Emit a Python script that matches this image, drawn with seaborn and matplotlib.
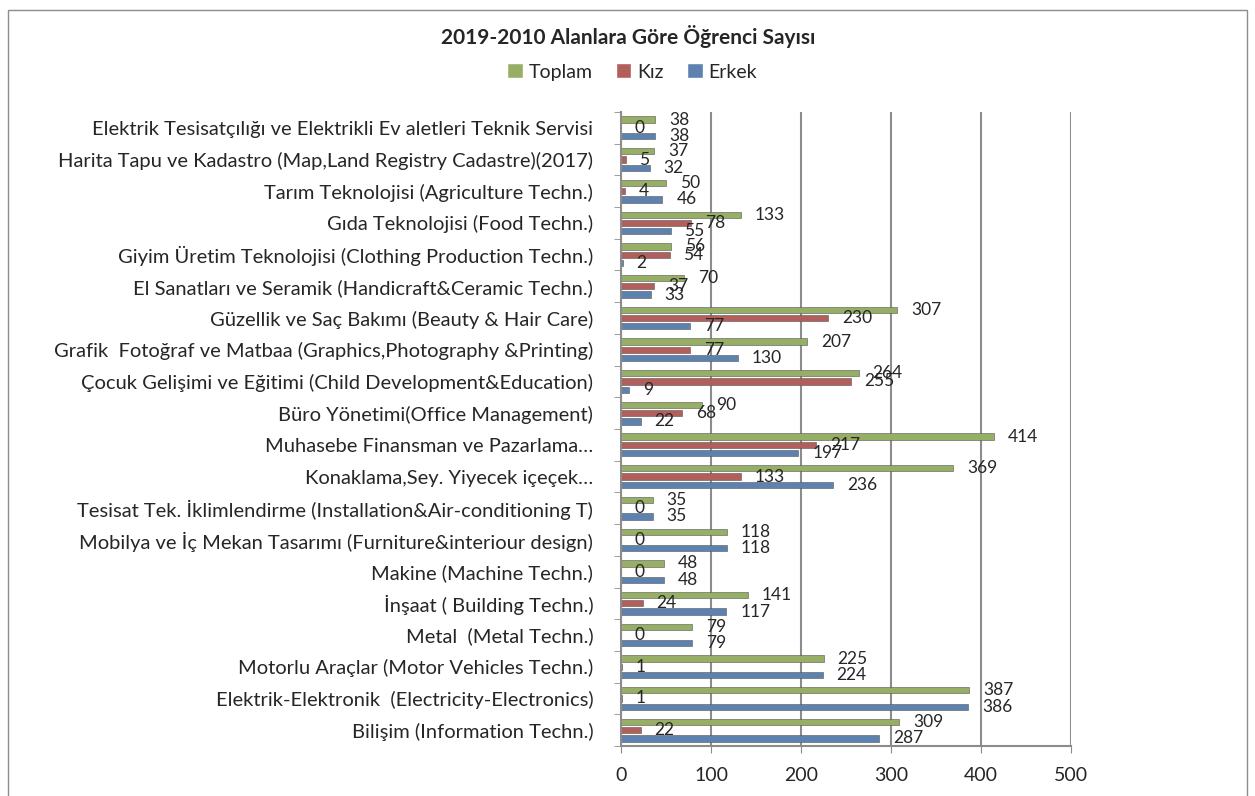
import matplotlib
matplotlib.use("Agg")
import matplotlib.pyplot as plt
import seaborn as sns
import pandas as pd
from matplotlib.patches import Rectangle
from matplotlib.ticker import FixedLocator

# data (top to bottom as shown)
categories = [
    "Elektrik Tesisatçılığı ve Elektrikli Ev aletleri Teknik Servisi",
    "Harita Tapu ve Kadastro (Map,Land Registry Cadastre)(2017)",
    "Tarım Teknolojisi (Agriculture Techn.)",
    "Gıda Teknolojisi (Food Techn.)",
    "Giyim Üretim Teknolojisi (Clothing Production Techn.)",
    "El Sanatları ve Seramik (Handicraft&Ceramic Techn.)",
    "Güzellik ve Saç Bakımı (Beauty & Hair Care)",
    "Grafik  Fotoğraf ve Matbaa (Graphics,Photography &Printing)",
    "Çocuk Gelişimi ve Eğitimi (Child Development&Education)",
    "Büro Yönetimi(Office Management)",
    "Muhasebe Finansman ve Pazarlama…",
    "Konaklama,Sey. Yiyecek içeçek…",
    "Tesisat Tek. İklimlendirme (Installation&Air-conditioning T)",
    "Mobilya ve İç Mekan Tasarımı (Furniture&interiour design)",
    "Makine (Machine Techn.)",
    "İnşaat ( Building Techn.)",
    "Metal  (Metal Techn.)",
    "Motorlu Araçlar (Motor Vehicles Techn.)",
    "Elektrik-Elektronik  (Electricity-Electronics)",
    "Bilişim (Information Techn.)",
]
toplam = [38, 37, 50, 133, 56, 70, 307, 207, 264, 90, 414, 369, 35, 118, 48, 141, 79, 225, 387, 309]
kiz = [0, 5, 4, 78, 54, 37, 230, 77, 255, 68, 217, 133, 0, 0, 0, 24, 0, 1, 1, 22]
erkek = [38, 32, 46, 55, 2, 33, 77, 130, 9, 22, 197, 236, 35, 118, 48, 117, 79, 224, 386, 287]
series = ["Toplam", "Kız", "Erkek"]
colors = {"Toplam": "#9BBB59", "Kız": "#C0504D", "Erkek": "#4F81BD"}

df = pd.DataFrame({"alan": categories, "Toplam": toplam, "Kız": kiz, "Erkek": erkek})
df = df.melt(id_vars="alan", var_name="grup", value_name="sayi")

sns.set_style("white")
plt.rcParams["font.family"] = ["Lato", "DejaVu Sans"]

fig = plt.figure(figsize=(12.55, 7.96), dpi=100)
ax = fig.add_axes([621 / 1255, 1 - 746 / 796, 450 / 1255, (746 - 112) / 796])

sns.barplot(data=df, y="alan", x="sayi", hue="grup", order=categories,
            hue_order=series, palette=colors, orient="h", width=0.78,
            ax=ax, legend=True)

# thin bars with small gaps like the excel chart
for container in ax.containers:
    for p in container:
        h = p.get_height()
        p.set_y(p.get_y() + h * 0.12)
        p.set_height(h * 0.76)
        p.set_edgecolor("#555555")
        p.set_linewidth(0.4)
    ax.bar_label(container, padding=10, fontsize=12.5)

ax.set_xlim(0, 500)
ax.set_xticks(range(0, 501, 100))
ax.xaxis.grid(True, color="#8c8c8c", linewidth=1.5)
ax.set_axisbelow(True)
ax.set_xlabel("")
ax.set_ylabel("")
ax.tick_params(axis="x", labelsize=14, length=5, color="#8c8c8c", pad=10, bottom=True)
ax.tick_params(axis="y", labelsize=14.5, length=0, pad=20)
ax.yaxis.set_minor_locator(FixedLocator([i + 0.5 for i in range(-1, len(categories))]))
ax.tick_params(axis="y", which="minor", length=5, color="#8c8c8c", left=True)
for s in ["top", "right"]:
    ax.spines[s].set_visible(False)
for s in ["left", "bottom"]:
    ax.spines[s].set_color("#8c8c8c")
    ax.spines[s].set_linewidth(1.5)

ax.legend(loc="center", bbox_to_anchor=(632 / 1255, 1 - 72 / 796),
          bbox_transform=fig.transFigure, ncol=3, frameon=False, fontsize=14,
          handlelength=0.8, handleheight=0.8, handletextpad=0.3, columnspacing=1.2)

fig.text(628 / 1255, 1 - 37 / 796, "2019-2010 Alanlara Göre Öğrenci Sayısı",
         ha="center", va="center", fontsize=15, fontweight="bold")

fig.patches.append(Rectangle((8 / 1255, -0.01), (1247 - 8) / 1255, 1.01 - 10 / 796,
                             transform=fig.transFigure, fill=False,
                             edgecolor="#8c8c8c", linewidth=1))

fig.savefig("out.png", dpi=100)
